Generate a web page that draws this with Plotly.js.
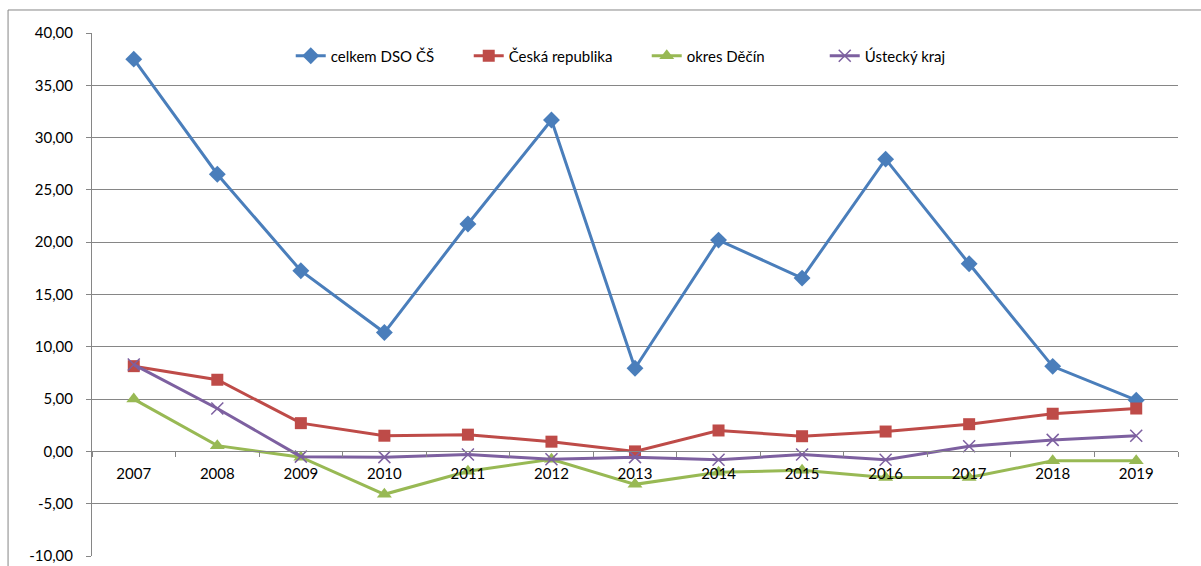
<!DOCTYPE html>
<html>
<head>
<meta charset="utf-8">
<script src="https://cdn.plot.ly/plotly-3.0.1.min.js"></script>
<style>
html,body{margin:0;padding:0;background:#fff;}
#chart{width:1201px;height:566px;}
</style>
</head>
<body>
<div id="chart"></div>
<script>
const years = ['2007','2008','2009','2010','2011','2012','2013','2014','2015','2016','2017','2018','2019'];
const celkemDSO = [37.5, 26.5, 17.27, 11.36, 21.74, 31.68, 7.95, 20.2, 16.57, 27.94, 17.94, 8.13, 4.9];
const ceskaRepublika = [8.15, 6.85, 2.7, 1.5, 1.6, 0.93, 0.0, 2.0, 1.45, 1.9, 2.6, 3.6, 4.1];
const okresDecin = [5.0, 0.55, -0.55, -4.1, -1.9, -0.75, -3.15, -2.0, -1.8, -2.5, -2.5, -0.9, -0.9];
const usteckyKraj = [8.3, 4.1, -0.5, -0.55, -0.3, -0.75, -0.55, -0.8, -0.3, -0.8, 0.5, 1.1, 1.5];
const seriesNames = ['celkem DSO ČŠ', 'Česká republika', 'okres Děčín', 'Ústecký kraj'];
const yTickVals = [-10, -5, 0, 5, 10, 15, 20, 25, 30, 35, 40];
const yTickText = ['-10,00', '-5,00', '0,00', '5,00', '10,00', '15,00', '20,00', '25,00', '30,00', '35,00', '40,00'];

const FONT = 'Lato, "Open Sans", sans-serif';
const traces = [
  {x: years, y: celkemDSO, name: seriesNames[0], type: 'scatter', mode: 'lines+markers',
   line: {color: '#4A7EBB', width: 3}, marker: {symbol: 'diamond', size: 13, color: '#4A7EBB'}},
  {x: years, y: ceskaRepublika, name: seriesNames[1], type: 'scatter', mode: 'lines+markers',
   line: {color: '#BE4B48', width: 3}, marker: {symbol: 'square', size: 12, color: '#BE4B48'}},
  {x: years, y: okresDecin, name: seriesNames[2], type: 'scatter', mode: 'lines+markers',
   line: {color: '#98B954', width: 3}, marker: {symbol: 'triangle-up', size: 13, color: '#98B954'}},
  {x: years, y: usteckyKraj, name: seriesNames[3], type: 'scatter', mode: 'lines+markers',
   line: {color: '#7D60A0', width: 3}, marker: {symbol: 'x-thin', size: 12, color: '#7D60A0', line: {color: '#7D60A0', width: 1.5}}}
];

const layout = {
  width: 1201, height: 566,
  margin: {l: 92, r: 23, t: 33, b: 10},
  paper_bgcolor: '#ffffff', plot_bgcolor: '#ffffff',
  font: {family: FONT, size: 15, color: '#000'},
  showlegend: true,
  legend: {orientation: 'h', x: 0.183, xanchor: 'left', y: 0.956, yanchor: 'middle',
           entrywidth: 133, entrywidthmode: 'pixels',
           bgcolor: 'rgba(0,0,0,0)', font: {family: FONT, size: 15, color: '#000'}, itemclick: false},
  xaxis: {type: 'category', range: [-0.5, 12.5], anchor: 'free', position: 0.2,
          showgrid: false, zeroline: false, showline: true, linecolor: '#868686', linewidth: 1,
          ticks: 'outside', tickson: 'boundaries', ticklen: 5, tickcolor: '#868686',
          ticklabelstandoff: 9,
          tickfont: {family: FONT, size: 15, color: '#000'}, fixedrange: true},
  yaxis: {range: [-10, 40], tickvals: yTickVals, ticktext: yTickText,
          showgrid: true, gridcolor: '#868686', gridwidth: 1, zeroline: false,
          showline: true, linecolor: '#868686', linewidth: 1,
          ticks: 'outside', ticklen: 5, tickcolor: '#868686',
          ticklabelstandoff: 10,
          tickfont: {family: FONT, size: 15, color: '#000'}, fixedrange: true},
  shapes: [
    {type: 'rect', xref: 'paper', yref: 'paper', x0: -0.0773, x1: 1.05, y0: -0.05, y1: 1.044,
     line: {color: '#868686', width: 1}, fillcolor: 'rgba(0,0,0,0)', layer: 'below'}
  ]
};

Plotly.newPlot('chart', traces, layout, {staticPlot: true, displayModeBar: false});
</script>
</body>
</html>
